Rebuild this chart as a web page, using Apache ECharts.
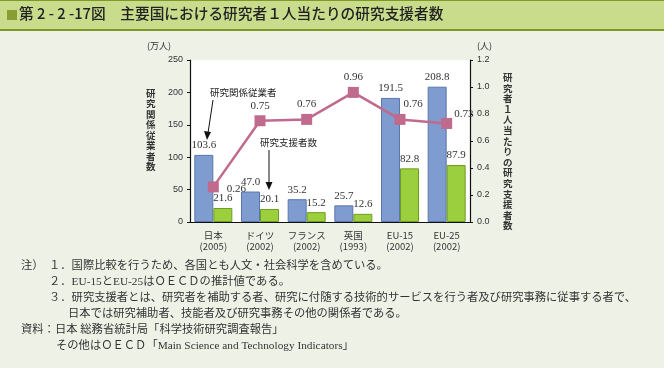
<!DOCTYPE html>
<html><head><meta charset="utf-8">
<script src="https://cdn.jsdelivr.net/npm/echarts@6/dist/echarts.min.js"></script>
<style>html,body{margin:0;padding:0;background:#eef2e6;}#c{width:664px;height:368px;}</style>
</head><body><div id="c"></div>
<script>
var categories = ['日本\n(2005)', 'ドイツ\n(2002)', 'フランス\n(2002)', '英国\n(1993)', 'EU-15\n(2002)', 'EU-25\n(2002)'];
var researchStaff = [103.6, 47.0, 35.2, 25.7, 191.5, 208.8];
var supportStaff = [21.6, 20.1, 15.2, 12.6, 82.8, 87.9];
var supportPerResearcher = [0.26, 0.75, 0.76, 0.96, 0.76, 0.73];
var leftTicks = [0, 50, 100, 150, 200, 250];
var rightTicks = [0.0, 0.2, 0.4, 0.6, 0.8, 1.0, 1.2];

var chart = echarts.init(document.getElementById('c'), null, {renderer: 'canvas'});
var CJK = '"Noto Sans CJK JP", sans-serif';
var SERIF = '"Liberation Serif", "Noto Sans CJK JP", serif';
var SANS = '"Liberation Sans", Arial, sans-serif';
var NOTEFONT = '"Liberation Serif", "Noto Sans CJK JP", serif';

function vert(s) { return s.split('').join('\n'); }

var lineLabelPos = [
  {position: 'right', distance: 8, offset: [0, 2]},
  {position: 'top', distance: 4},
  {position: 'top', distance: 4},
  {position: 'top', distance: 4},
  {position: 'top', distance: 4, offset: [13, 0]},
  {position: 'right', distance: 2, offset: [0, -9]}
];

var notes = [
  {x: 21, y: 268, t: '注）'},
  {x: 49, y: 268, t: '１．国際比較を行うため、各国とも人文・社会科学を含めている。'},
  {x: 49, y: 284, t: '２．EU-15とEU-25はＯＥＣＤの推計値である。'},
  {x: 49, y: 300, t: '３．研究支援者とは、研究者を補助する者、研究に付随する技術的サービスを行う者及び研究事務に従事する者で、'},
  {x: 68, y: 316, t: '日本では研究補助者、技能者及び研究事務その他の関係者である。'},
  {x: 21, y: 332, t: '資料：日本 総務省統計局「科学技術研究調査報告」'},
  {x: 56, y: 348, t: 'その他はＯＥＣＤ「Main Science and Technology Indicators」'}
];

var graphics = [
  {type: 'rect', shape: {x: 0, y: 0, width: 664, height: 30}, style: {fill: '#c8dc8c'}, z: 0},
  {type: 'rect', shape: {x: 0, y: 0, width: 664, height: 1}, style: {fill: '#7d9a28'}},
  {type: 'rect', shape: {x: 0, y: 29, width: 664, height: 2}, style: {fill: '#7d9a28'}},
  {type: 'rect', shape: {x: 7, y: 10, width: 10, height: 10}, style: {fill: '#8a9c34'}},
  {type: 'text', left: 19, top: 6, style: {text: '第 2 - 2 -17図　主要国における研究者１人当たりの研究支援者数', font: '500 14.7px ' + CJK, fill: '#222'}},
  {type: 'text', left: 147, top: 41, style: {text: '(万人)', font: '9px ' + CJK, fill: '#333'}},
  {type: 'text', left: 477, top: 41, style: {text: '(人)', font: '9px ' + CJK, fill: '#333'}},
  {type: 'text', left: 146, top: 88, style: {text: vert('研究関係従業者数'), font: 'bold 9.5px ' + CJK, fill: '#333', lineHeight: 10.5}},
  {type: 'text', left: 503, top: 72, style: {text: vert('研究者１人当たりの研究支援者数'), font: 'bold 9.5px ' + CJK, fill: '#333', lineHeight: 10.6}},
  {type: 'text', left: 210, top: 88, style: {text: '研究関係従業者', font: '9.5px ' + CJK, fill: '#222'}, z: 10},
  {type: 'text', left: 260, top: 138, style: {text: '研究支援者数', font: '9.5px ' + CJK, fill: '#222'}, z: 10},
  {type: 'line', shape: {x1: 213, y1: 100, x2: 208, y2: 133}, style: {stroke: '#111', lineWidth: 1}, z: 10},
  {type: 'polygon', shape: {points: [[204, 131], [211, 132], [207, 140]]}, style: {fill: '#111'}, z: 10},
  {type: 'line', shape: {x1: 269, y1: 150, x2: 269, y2: 183}, style: {stroke: '#111', lineWidth: 1}, z: 10},
  {type: 'polygon', shape: {points: [[265.5, 182], [272.5, 182], [269, 190]]}, style: {fill: '#111'}, z: 10}
];
notes.forEach(function (n) {
  graphics.push({type: 'text', left: n.x, top: n.y - 8, style: {text: n.t, font: '11.3px ' + NOTEFONT, fill: '#333'}});
});

chart.setOption({
  backgroundColor: '#eef2e6',
  animation: false,
  grid: {left: 190, right: 194, top: 60, bottom: 146, backgroundColor: '#ffffff', show: true, borderWidth: 0},
  xAxis: {
    type: 'category', data: categories,
    axisLine: {lineStyle: {color: '#111', width: 1.2}},
    axisTick: {show: false},
    axisLabel: {interval: 0, color: '#333', fontFamily: CJK, fontSize: 9.5, lineHeight: 11, margin: 8}
  },
  yAxis: [
    {type: 'value', min: leftTicks[0], max: leftTicks[leftTicks.length - 1], interval: 50,
     axisLine: {show: true, lineStyle: {color: '#111', width: 1.2}},
     axisTick: {show: true, length: 3, lineStyle: {color: '#111'}},
     splitLine: {show: false},
     axisLabel: {color: '#333', fontFamily: SANS, fontSize: 9, margin: 7}},
    {type: 'value', min: rightTicks[0], max: rightTicks[rightTicks.length - 1], interval: 0.2,
     axisLine: {show: true, lineStyle: {color: '#111', width: 1.2}},
     axisTick: {show: true, length: 3, lineStyle: {color: '#111'}},
     splitLine: {show: false},
     axisLabel: {color: '#333', fontFamily: SANS, fontSize: 9, margin: 7, formatter: function (v) { return v.toFixed(1); }}}
  ],
  series: [
    {type: 'bar', name: '研究関係従業者', data: researchStaff, yAxisIndex: 0,
     barWidth: 19, barGap: '0%',
     itemStyle: {color: '#7e9ccf', borderColor: '#5a76ab', borderWidth: 1},
     label: {show: true, position: 'top', distance: 4, color: '#333', fontFamily: SERIF, fontSize: 11, formatter: function (p) { return p.value.toFixed(1); }}},
    {type: 'bar', name: '研究支援者数', data: supportStaff, yAxisIndex: 0,
     barWidth: 19, barGap: '0%',
     itemStyle: {color: '#9ccf3e', borderColor: '#6f9d22', borderWidth: 1},
     label: {show: true, position: 'top', distance: 4, color: '#333', fontFamily: SERIF, fontSize: 11, formatter: function (p) { return p.value.toFixed(1); }}},
    {type: 'line', name: '研究者１人当たり', yAxisIndex: 1,
     data: supportPerResearcher.map(function (v, i) { return {value: v, label: lineLabelPos[i]}; }),
     symbol: 'rect', symbolSize: 11, z: 5,
     lineStyle: {color: '#c06a8e', width: 2.5},
     itemStyle: {color: '#c06a8e'},
     label: {show: true, color: '#333', fontFamily: SERIF, fontSize: 11, formatter: function (p) { return p.value.toFixed(2); }}}
  ],
  graphic: graphics
});
</script></body></html>
